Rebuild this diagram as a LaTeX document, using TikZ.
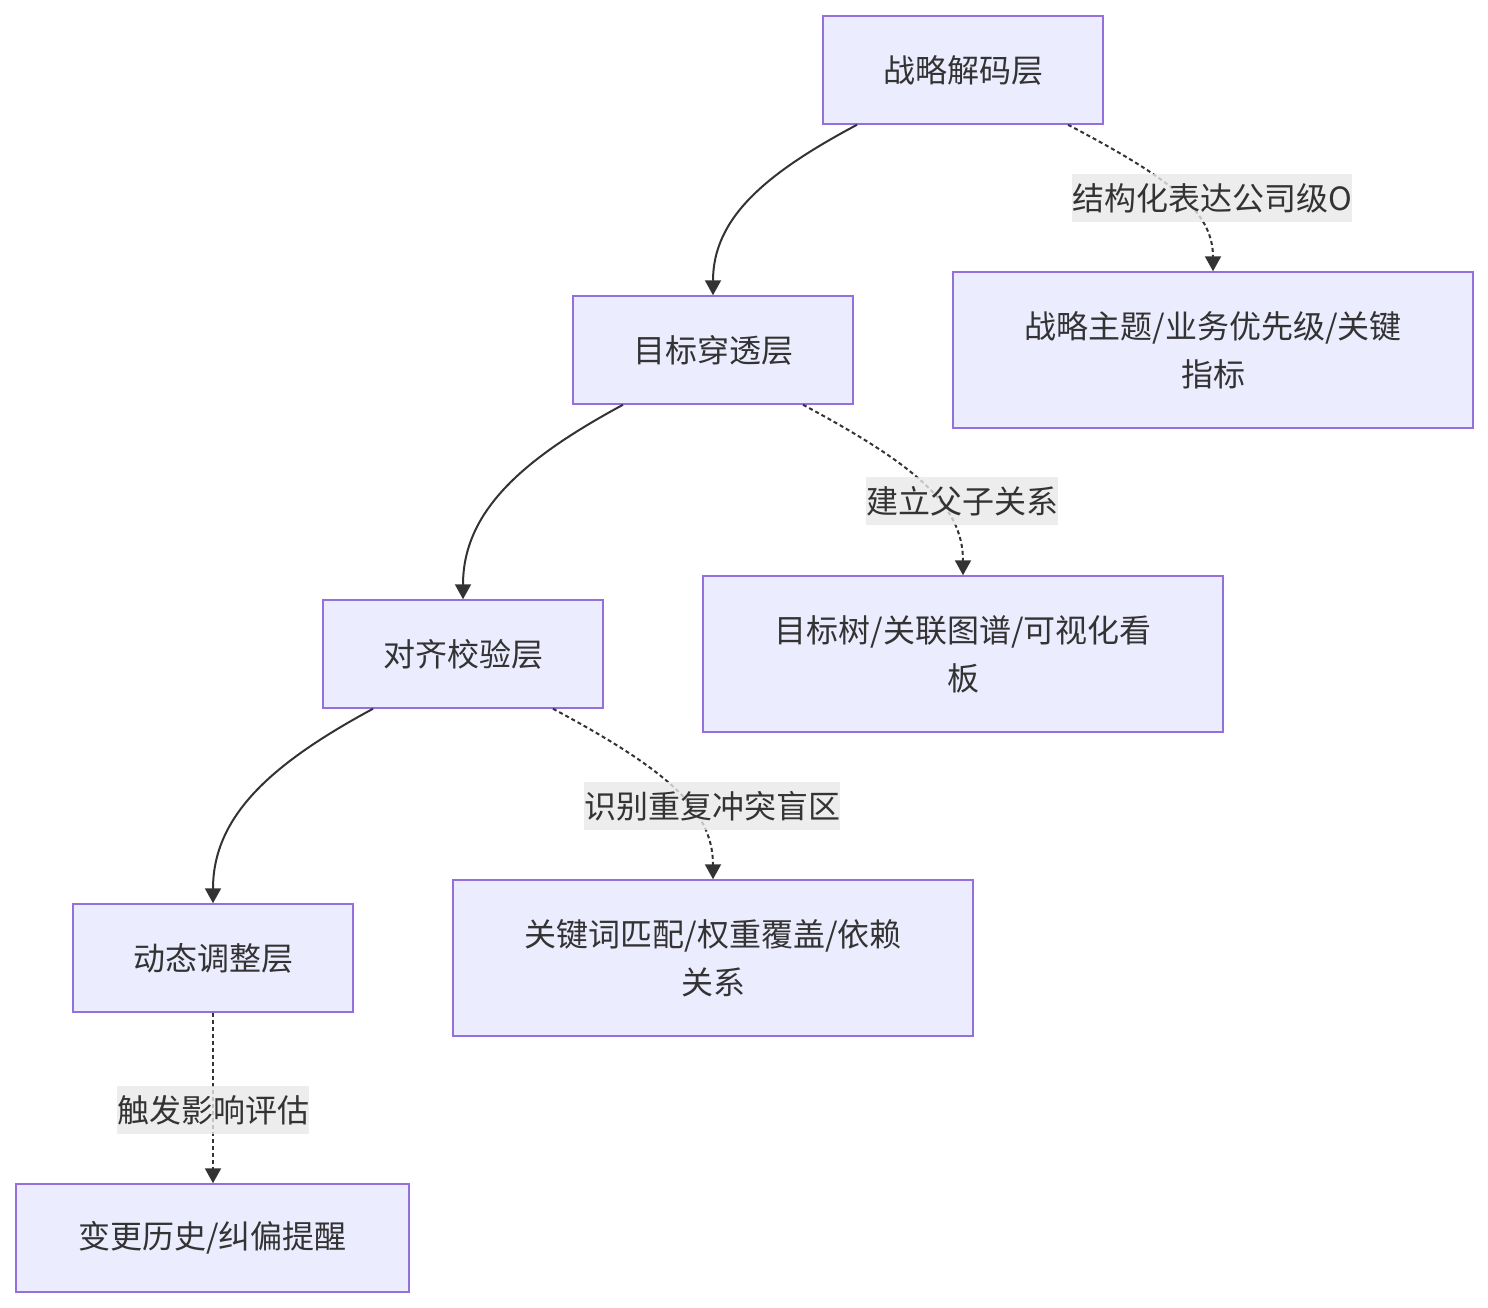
\documentclass[tikz,border=0pt]{standalone}
\usepackage{fontspec}
\newfontfamily\cjk{Noto Sans CJK SC}
\usetikzlibrary{arrows.meta}
\definecolor{boxfill}{HTML}{ECECFF}
\definecolor{boxdraw}{HTML}{9370DB}
\definecolor{txt}{HTML}{333333}
\definecolor{lblbg}{HTML}{E8E8E8}
\begin{document}
\begin{tikzpicture}[x=1pt,y=-1pt,
  box/.style={draw=boxdraw, fill=boxfill, line width=1.5pt, inner sep=0pt,
    text=txt, align=center, font=\cjk\fontsize{32pt}{48pt}\selectfont},
  boxs/.style={box, minimum width=280pt, minimum height=108pt},
  boxw/.style={box, minimum width=520pt, minimum height=156pt},
  flow/.style={draw=txt, line width=2pt, -{Triangle[length=15pt,width=16pt]}},
  dflow/.style={flow, dash pattern=on 4pt off 3pt},
  lbl/.style={fill=lblbg, fill opacity=0.8, text opacity=1, text=txt,
    inner sep=0pt, minimum height=48pt, font=\cjk\fontsize{32pt}{48pt}\selectfont}
]
\useasboundingbox (0,0) rectangle (1488,1308);

\node[boxs] (a) at (963,70) {战略解码层};
\node[boxs] (b) at (713,350) {目标穿透层};
\node[boxw] (c) at (1213,350) {战略主题/业务优先级/关键\\指标};
\node[boxs] (d) at (463,654) {对齐校验层};
\node[boxw] (e) at (963,654) {目标树/关联图谱/可视化看\\板};
\node[boxs] (f) at (213,958) {动态调整层};
\node[boxw] (g) at (713,958) {关键词匹配/权重覆盖/依赖\\关系};
\node[box, minimum width=393pt, minimum height=108pt] (h) at (212.5,1238) {变更历史/纠偏提醒};

% solid edges
\draw[flow] ([xshift=-106pt]a.south) .. controls +(-90,48) and +(0,-78) .. (b.north);
\draw[flow] ([xshift=-90pt]b.south) .. controls +(-100,54) and +(0,-88) .. (d.north);
\draw[flow] ([xshift=-90pt]d.south) .. controls +(-100,54) and +(0,-88) .. (f.north);

% dashed edges
\draw[dflow] ([xshift=105pt]a.south) .. controls +(97,51) and +(0,-62) .. (c.north);
\draw[dflow] ([xshift=90pt]b.south) .. controls +(108,58) and +(0,-72) .. (e.north);
\draw[dflow] ([xshift=90pt]d.south) .. controls +(108,58) and +(0,-72) .. (g.north);
\draw[dflow] (f.south) -- (f.south |- h.north);

% edge labels
\node[lbl] (l1) at (1212,198) {结构化表达公司级O};
\node[lbl] (l2) at (962,501) {建立父子关系};
\node[lbl] (l3) at (712,806) {识别重复冲突盲区};
\node[lbl] (l4) at (213,1110) {触发影响评估};
\end{tikzpicture}
\end{document}
